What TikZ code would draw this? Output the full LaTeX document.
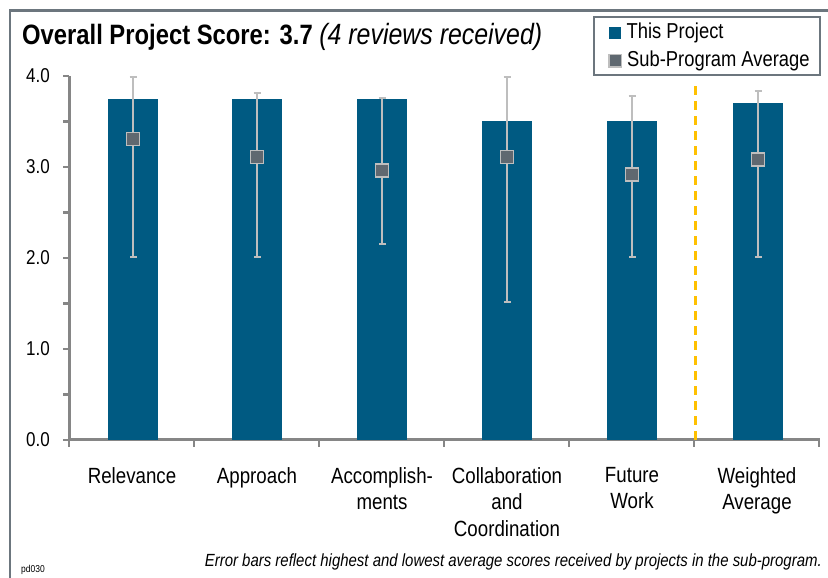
\documentclass[tikz,border=0pt]{standalone}
\usepackage{fontspec}
\setmainfont{Liberation Sans}[FakeStretch=0.85]
\usetikzlibrary{positioning, fit, arrows.meta}
\definecolor{barblue}{RGB}{0,90,130}
\definecolor{errgray}{RGB}{190,190,190}
\definecolor{markgray}{RGB}{95,104,112}
\definecolor{axisgray}{RGB}{134,134,134}
\definecolor{framegray}{RGB}{108,118,126}
\definecolor{sepgold}{RGB}{255,192,0}
\tikzset{
    bar/.style={fill=barblue},
    errbar/.style={draw=errgray, line width=2.5pt,
      arrows={Bar[width=7pt,line width=2pt]-Bar[width=7pt,line width=2pt]}},
    avgmark/.style={rectangle, fill=markgray, draw=errgray, line width=1.5pt,
      minimum size=13pt, inner sep=0pt},
    axisline/.style={draw=axisgray, line width=3pt},
    sepline/.style={draw=sepgold, line width=3pt, dash pattern=on 9pt off 6pt},
    ticklabel/.style={anchor=east, inner sep=0pt, font=\fontsize{20}{24}\selectfont},
    catlabel/.style={anchor=north, inner sep=0pt, yshift=-27pt, align=center,
      font=\fontsize{22}{26.5}\selectfont},
    legsq/.style={rectangle, minimum size=12.5pt, inner sep=0pt},
    legtext/.style={anchor=west, inner sep=0pt, font=\fontsize{21.6}{25}\selectfont},
}
\begin{document}
\begin{tikzpicture}[x=1pt, y=1pt]
    \useasboundingbox (0,0) rectangle (828,578);

    % frame
    \begin{scope}
      \clip (0,0) rectangle (828,578);
      \draw[framegray, line width=2.5pt] (10,-20) rectangle (860,567.5);
    \end{scope}

    \node[anchor=base west, inner sep=0pt, font=\fontsize{28}{32}\selectfont] (title) at (22,533)
      {\bfseries Overall Project Score: 3.7 \mdseries\itshape\fontsize{29.3}{32}\selectfont(4 reviews received)};

    % legend
    \draw[framegray, line width=1.5pt] (594,503) rectangle (820,561);
    \node[legsq, fill=barblue] (lp) at (615,545) {};
    \node[legtext, right=5pt of lp] (lptext) {This Project};
    \node[legsq, fill=markgray, draw=errgray, line width=1.5pt] (la) at (615,517) {};
    \node[legtext, right=5pt of la] (latext) {Sub-Program Average};

    \begin{scope}[shift={(69,138)}, y=91pt]
      % axes
      \foreach \v in {0,0.5,...,4}
        \draw[axisline, line width=2.5pt] (-6,\v) -- (0,\v);
      \foreach \c in {0,125,...,750}
        \draw[axisline, line width=2.5pt] (\c,0) -- (\c,-0.075);
      \draw[axisline] (0,0) -- (0,4);
      \draw[axisline] (0,0) -- (751,0);

      \node[ticklabel] (t0) at (-19,0) {0.0};
      \node[ticklabel] (t1) at (-19,1) {1.0};
      \node[ticklabel] (t2) at (-19,2) {2.0};
      \node[ticklabel] (t3) at (-19,3) {3.0};
      \node[ticklabel] (t4) at (-19,4) {4.0};

      % bars
      \fill[bar] (39,0) rectangle (89,3.75);
      \fill[bar] (163,0) rectangle (213,3.75);
      \fill[bar] (288,0) rectangle (338,3.75);
      \fill[bar] (413,0) rectangle (463,3.5);
      \fill[bar] (538,0) rectangle (588,3.5);
      \fill[bar] (664,0) rectangle (714,3.7);

      \draw[sepline] (626,0) -- (626,3.92);

      % error bars and sub-program averages
      \draw[errbar] (64,2) -- (64,4);
      \node[avgmark] (rel) at (64,3.31) {};
      \draw[errbar] (188,2) -- (188,3.82);
      \node[avgmark] (app) at (188,3.11) {};
      \draw[errbar] (313,2.14) -- (313,3.77);
      \node[avgmark] (acc) at (313,2.96) {};
      \draw[errbar] (438,1.5) -- (438,4);
      \node[avgmark] (col) at (438,3.11) {};
      \draw[errbar] (563,2) -- (563,3.79);
      \node[avgmark] (fut) at (563,2.92) {};
      \draw[errbar] (689,2) -- (689,3.85);
      \node[avgmark] (wav) at (689,3.08) {};

      % categories
      \node[catlabel] (relname) at (63,0) {Relevance};
      \node[catlabel] (appname) at (188,0) {Approach};
      \node[catlabel] (accname) at (313,0) {Accomplish-\\ments};
      \node[catlabel] (colname) at (438,0) {Collaboration\\and\\Coordination};
      \node[catlabel] (futname) at (563,0) {Future\\Work};
      \node[catlabel] (wavname) at (688,0) {Weighted\\Average};
    \end{scope}

    \node[anchor=base east, inner sep=0pt, font=\fontsize{17.6}{20}\selectfont\itshape] (note) at (822,11)
      {Error bars reflect highest and lowest average scores received by projects in the sub-program.};
    \node[anchor=base west, inner sep=0pt, font=\fontsize{10}{12}\selectfont] (code) at (21,5) {pd030};
\end{tikzpicture}
\end{document}
